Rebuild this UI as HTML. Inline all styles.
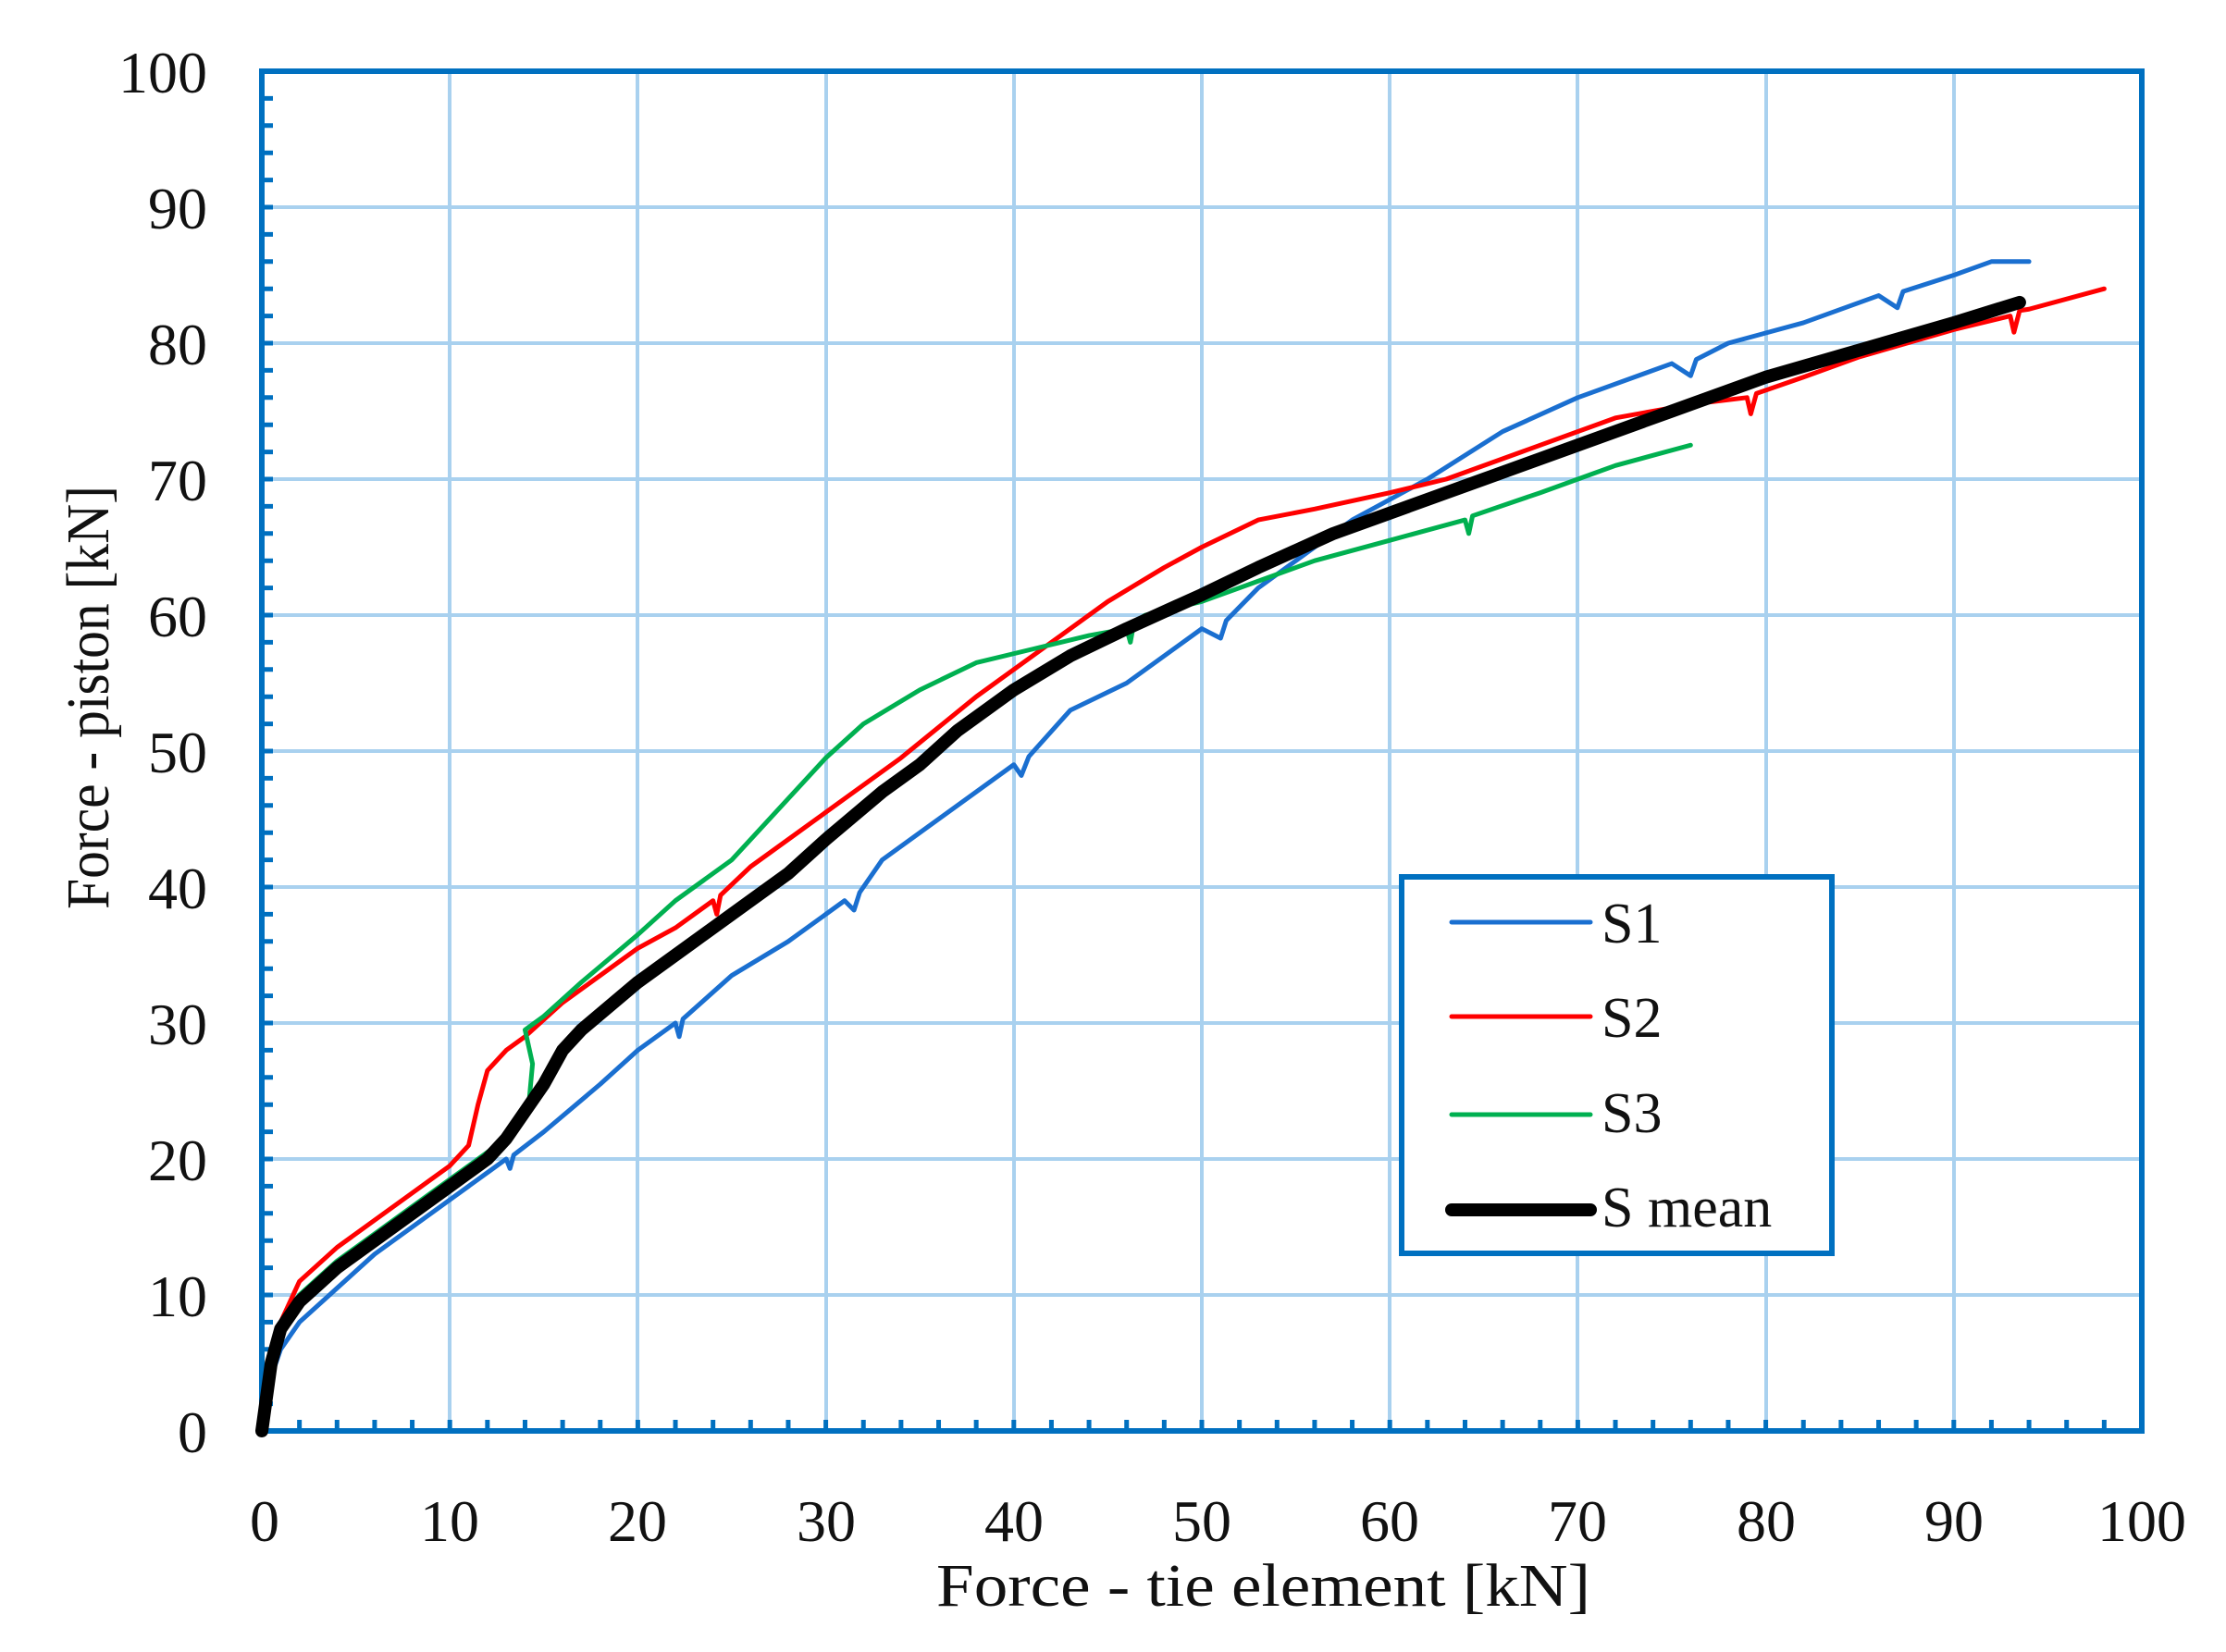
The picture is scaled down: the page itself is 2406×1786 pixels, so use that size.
<!DOCTYPE html>
<html><head><meta charset="utf-8"><style>html,body{margin:0;padding:0;background:#fff}</style></head>
<body>
<svg width="2406" height="1781" viewBox="0 0 2406 1781" xmlns="http://www.w3.org/2000/svg" font-family="'Liberation Serif', serif">
<rect width="2406" height="1781" fill="#fff"/>
<g stroke="#a9d1ef" stroke-width="4">
<line x1="486" y1="77" x2="486" y2="1547"/><line x1="689" y1="77" x2="689" y2="1547"/><line x1="893" y1="77" x2="893" y2="1547"/><line x1="1096" y1="77" x2="1096" y2="1547"/><line x1="1299" y1="77" x2="1299" y2="1547"/><line x1="1502" y1="77" x2="1502" y2="1547"/><line x1="1705" y1="77" x2="1705" y2="1547"/><line x1="1909" y1="77" x2="1909" y2="1547"/><line x1="2112" y1="77" x2="2112" y2="1547"/>
<line x1="283" y1="224" x2="2315" y2="224"/><line x1="283" y1="371" x2="2315" y2="371"/><line x1="283" y1="518" x2="2315" y2="518"/><line x1="283" y1="665" x2="2315" y2="665"/><line x1="283" y1="812" x2="2315" y2="812"/><line x1="283" y1="959" x2="2315" y2="959"/><line x1="283" y1="1106" x2="2315" y2="1106"/><line x1="283" y1="1253" x2="2315" y2="1253"/><line x1="283" y1="1400" x2="2315" y2="1400"/>
</g>
<g stroke="#0070c0" stroke-width="5" fill="none">
<path d="M323.64,1547v-12m40.64,12v-12m40.64,12v-12m40.64,12v-12m40.64,12v-12m40.64,12v-12m40.64,12v-12m40.64,12v-12m40.64,12v-12m40.64,12v-12m40.64,12v-12m40.64,12v-12m40.64,12v-12m40.64,12v-12m40.64,12v-12m40.64,12v-12m40.64,12v-12m40.64,12v-12m40.64,12v-12m40.64,12v-12m40.64,12v-12m40.64,12v-12m40.64,12v-12m40.64,12v-12m40.64,12v-12m40.64,12v-12m40.64,12v-12m40.64,12v-12m40.64,12v-12m40.64,12v-12m40.64,12v-12m40.64,12v-12m40.64,12v-12m40.64,12v-12m40.64,12v-12m40.64,12v-12m40.64,12v-12m40.64,12v-12m40.64,12v-12m40.64,12v-12m40.64,12v-12m40.64,12v-12m40.64,12v-12m40.64,12v-12m40.64,12v-12m40.64,12v-12m40.64,12v-12m40.64,12v-12m40.64,12v-12"/>
<path d="M283,1517.6h12m-12,-29.4h12m-12,-29.4h12m-12,-29.4h12m-12,-29.4h12m-12,-29.4h12m-12,-29.4h12m-12,-29.4h12m-12,-29.4h12m-12,-29.4h12m-12,-29.4h12m-12,-29.4h12m-12,-29.4h12m-12,-29.4h12m-12,-29.4h12m-12,-29.4h12m-12,-29.4h12m-12,-29.4h12m-12,-29.4h12m-12,-29.4h12m-12,-29.4h12m-12,-29.4h12m-12,-29.4h12m-12,-29.4h12m-12,-29.4h12m-12,-29.4h12m-12,-29.4h12m-12,-29.4h12m-12,-29.4h12m-12,-29.4h12m-12,-29.4h12m-12,-29.4h12m-12,-29.4h12m-12,-29.4h12m-12,-29.4h12m-12,-29.4h12m-12,-29.4h12m-12,-29.4h12m-12,-29.4h12m-12,-29.4h12m-12,-29.4h12m-12,-29.4h12m-12,-29.4h12m-12,-29.4h12m-12,-29.4h12m-12,-29.4h12m-12,-29.4h12m-12,-29.4h12m-12,-29.4h12"/>
</g>
<rect x="283" y="77" width="2032" height="1470" fill="none" stroke="#0070c0" stroke-width="6"/>
<g transform="translate(283,1547) scale(20.32,-14.7)" fill="none" stroke-linejoin="round" stroke-linecap="round">
<polyline vector-effect="non-scaling-stroke" stroke="#1a6fd0" stroke-width="5" points="0,0 0.5,4 1,6 2,8 4,10.5 6,13 8,15 10,17 12,19 13,20 13.2,19.3 13.4,20.3 15,22 18,25.5 20,28 22,30 22.2,29 22.4,30.3 25,33.5 28,36 31,39 31.5,38.3 31.8,39.6 33,42 36,45 40,49 40.4,48.2 40.8,49.6 43,53 46,55 50,59 51,58.3 51.3,59.6 53,62 55,64 58,67 62,70 66,73.5 70,76 75,78.5 76,77.6 76.3,78.8 78,80 82,81.5 86,83.5 87,82.6 87.3,83.8 90,85 92,86 94,86"/>
<polyline vector-effect="non-scaling-stroke" stroke="#ff0000" stroke-width="5" points="0,0 0.3,4 1,8 2,11 4,13.5 6,15.5 8,17.5 10,19.5 11,21 11.5,24 12,26.5 13,28 14,29 16,31.5 18,33.5 20,35.5 22,37 24,39 24.2,38 24.4,39.4 26,41.5 28,43.5 30,45.5 34,49.5 38,54 42,58 45,61 48,63.5 50,65 53,67 56,67.8 60,69 63,70 67,72 72,74.5 76,75.5 79,76 79.2,74.8 79.5,76.3 82,77.5 85,79 90,81 93,82 93.2,80.8 93.5,82.4 94,82.5 98,84"/>
<polyline vector-effect="non-scaling-stroke" stroke="#00b050" stroke-width="5" points="0,0 0.4,5 1,8 2,10 4,12.5 6,14.5 8,16.5 10,18.5 12,20.5 13.5,22 14.2,24 14.4,27 14,29.5 15,30.5 17,33 20,36.5 22,39 25,42 28,46.5 30,49.5 32,52 35,54.5 38,56.5 41,57.5 44,58.5 46,59 46.2,58 46.4,59.5 47,60 50,61 53,62.5 56,64 60,65.5 64,67 64.2,66 64.4,67.3 68,69 72,71 76,72.5"/>
<polyline vector-effect="non-scaling-stroke" stroke="#000" stroke-width="14" points="0,0 0.5,5 1,7.5 2,9.5 4,12 6,14 8,16 10,18 12,20 13,21.5 14,23.5 15,25.5 16,28 17,29.5 20,33 23,36 26,39 28,41 30,43.5 33,47 35,49 37,51.5 40,54.5 43,57 46,59 50,61.5 53,63.5 57,66 60,67.5 65,70 70,72.5 75,75 80,77.5 85,79.5 90,81.5 93.5,83"/>
</g>
<g font-size="64" fill="#111" text-anchor="end">
<text x="224" y="100">100</text><text x="224" y="247">90</text><text x="224" y="394">80</text><text x="224" y="541">70</text><text x="224" y="688">60</text><text x="224" y="835">50</text><text x="224" y="982">40</text><text x="224" y="1129">30</text><text x="224" y="1276">20</text><text x="224" y="1423">10</text><text x="224" y="1570">0</text>
</g>
<g font-size="64" fill="#111" text-anchor="middle">
<text x="286" y="1666">0</text><text x="486" y="1666">10</text><text x="689" y="1666">20</text><text x="893" y="1666">30</text><text x="1096" y="1666">40</text><text x="1299" y="1666">50</text><text x="1502" y="1666">60</text><text x="1705" y="1666">70</text><text x="1909" y="1666">80</text><text x="2112" y="1666">90</text><text x="2315" y="1666">100</text>
</g>
<text x="1012" y="1736" font-size="66" fill="#111" textLength="707" lengthAdjust="spacingAndGlyphs">Force - tie element [kN]</text>
<text transform="translate(117,983) rotate(-90)" font-size="66" fill="#111" textLength="458" lengthAdjust="spacingAndGlyphs">Force - piston [kN]</text>
<rect x="1515" y="948" width="465" height="407" fill="#fff" stroke="#0070c0" stroke-width="6"/>
<g stroke-linecap="round">
<line x1="1569" y1="997" x2="1719" y2="997" stroke="#1a6fd0" stroke-width="5"/>
<line x1="1569" y1="1099" x2="1719" y2="1099" stroke="#ff0000" stroke-width="5"/>
<line x1="1569" y1="1205" x2="1719" y2="1205" stroke="#00b050" stroke-width="5"/>
<line x1="1569" y1="1308" x2="1719" y2="1308" stroke="#000" stroke-width="14"/>
</g>
<g font-size="62" fill="#111">
<text x="1731" y="1019">S1</text><text x="1731" y="1121">S2</text><text x="1731" y="1224">S3</text><text x="1731" y="1326">S mean</text>
</g>
</svg>
</body></html>
